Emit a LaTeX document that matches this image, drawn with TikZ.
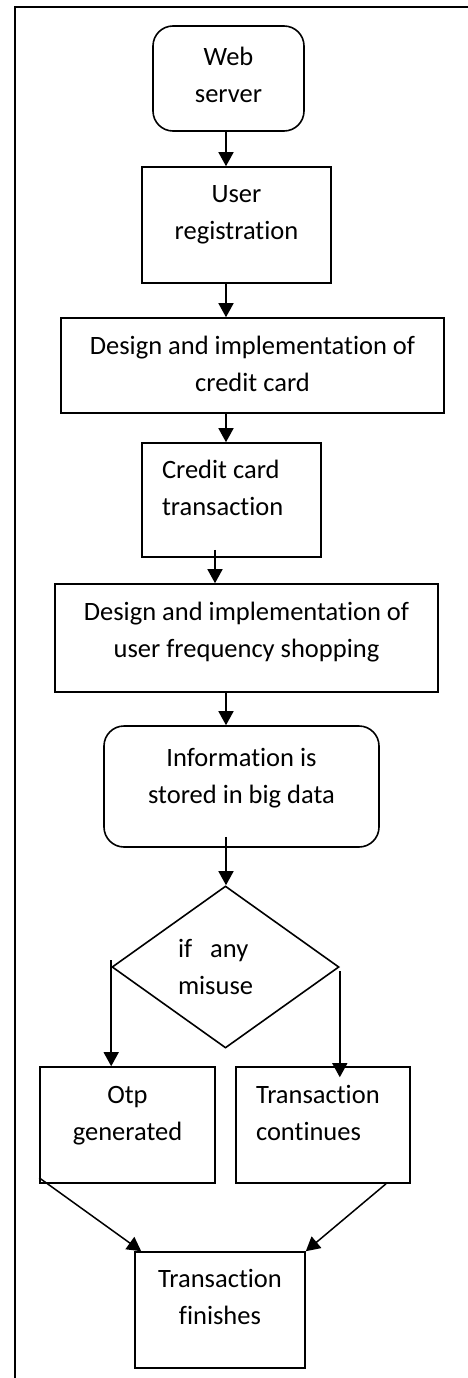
\documentclass[tikz,border=0pt]{standalone}
\usepackage{fontspec}
\setmainfont{Carlito}[Ligatures=NoCommon]
\usetikzlibrary{arrows.meta,shapes.geometric}
\newcommand{\cbox}[3]{\makebox[#1][c]{\hspace*{#2}\begin{tabular}[t]{@{}c@{}}#3\end{tabular}}}
\newcommand{\lbox}[3]{\makebox[#1][l]{\hspace*{#2}\begin{tabular}[t]{@{}l@{}}#3\end{tabular}}}
\tikzset{
  box/.style={draw, line width=1.6pt, inner sep=0pt, anchor=base, font=\fontsize{26.5}{37}\selectfont},
  rbox/.style={box, rounded corners=20pt},
  dia/.style={box, diamond, minimum width=227pt, minimum height=162pt, text height=10pt, text depth=30pt},
  arr/.style={-{Triangle[length=14pt,width=15pt]}, line width=1.5pt},
  frame/.style={line width=1.6pt}
}
\begin{document}
\begin{tikzpicture}[x=1pt,y=-1pt]
\useasboundingbox (0,0) rectangle (468,1378);
\coordinate (ftr) at (468,7);
\coordinate (ftl) at (15,7);
\coordinate (fbl) at (15,1378);
\draw[frame] (ftr) -- (ftl) -- (fbl);
\coordinate (sp) at (226,0);
\coordinate (sp2) at (215,0);

\node[rbox, text height=40pt, text depth=65pt] (ws) at (228.5,66) {\cbox{151pt}{0pt}{Web\\server}};
\node[box, text height=35pt, text depth=81pt] (ur) at (236.5,202) {\cbox{189pt}{0pt}{User\\registration}};
\node[box, text height=36pt, text depth=59pt] (dc) at (252.5,354) {\cbox{383pt}{0pt}{Design and implementation of\\credit card}};
\node[box, text height=35pt, text depth=79pt] (ct) at (231.5,478) {\lbox{179pt}{20pt}{Credit card\\transaction}};
\node[box, text height=36pt, text depth=72pt] (df) at (246.5,620) {\cbox{383pt}{0pt}{Design and implementation of\\user frequency shopping}};
\node[rbox, text height=40pt, text depth=81pt] (inf) at (241.5,766) {\cbox{275pt}{0pt}{Information is\\stored in big data}};
\node[dia] (dm) at (225.5,957) {\lbox{95pt}{0pt}{if\hspace{12pt} any\\misuse}};
\node[box, text height=36pt, text depth=80pt] (otp) at (127.5,1103) {\cbox{175pt}{0pt}{Otp\\generated}};
\node[box, text height=36pt, text depth=80pt] (tc) at (323,1103) {\lbox{174pt}{20pt}{Transaction\\continues}};
\node[box, text height=35pt, text depth=81pt] (tf) at (220,1287) {\cbox{170pt}{0pt}{Transaction\\finishes}};

\draw[arr] (ws.south -| sp) -- (ur.north -| sp);
\draw[arr] (ur.south -| sp) -- (dc.north -| sp);
\draw[arr] (dc.south -| sp) -- (ct.north -| sp);
\draw[arr] ([yshift=8pt]ct.south -| sp2) -- (df.north -| sp2);
\draw[arr] (df.south -| sp) -- (inf.north -| sp);
\draw[arr] ([yshift=11pt]inf.south -| sp) -- (dm.north -| sp);
\draw[arr] ([yshift=7pt]dm.west) -- (otp.north -| dm.west);
\draw[arr] ([yshift=-4pt]dm.east) -- ([yshift=-11pt]tc.north -| dm.east);
\draw[arr] ([yshift=6pt]otp.south west) -- ([xshift=7pt]tf.north west);
\draw[arr] ([xshift=63pt]tc.south) -- (tf.north east);
\end{tikzpicture}
\end{document}
